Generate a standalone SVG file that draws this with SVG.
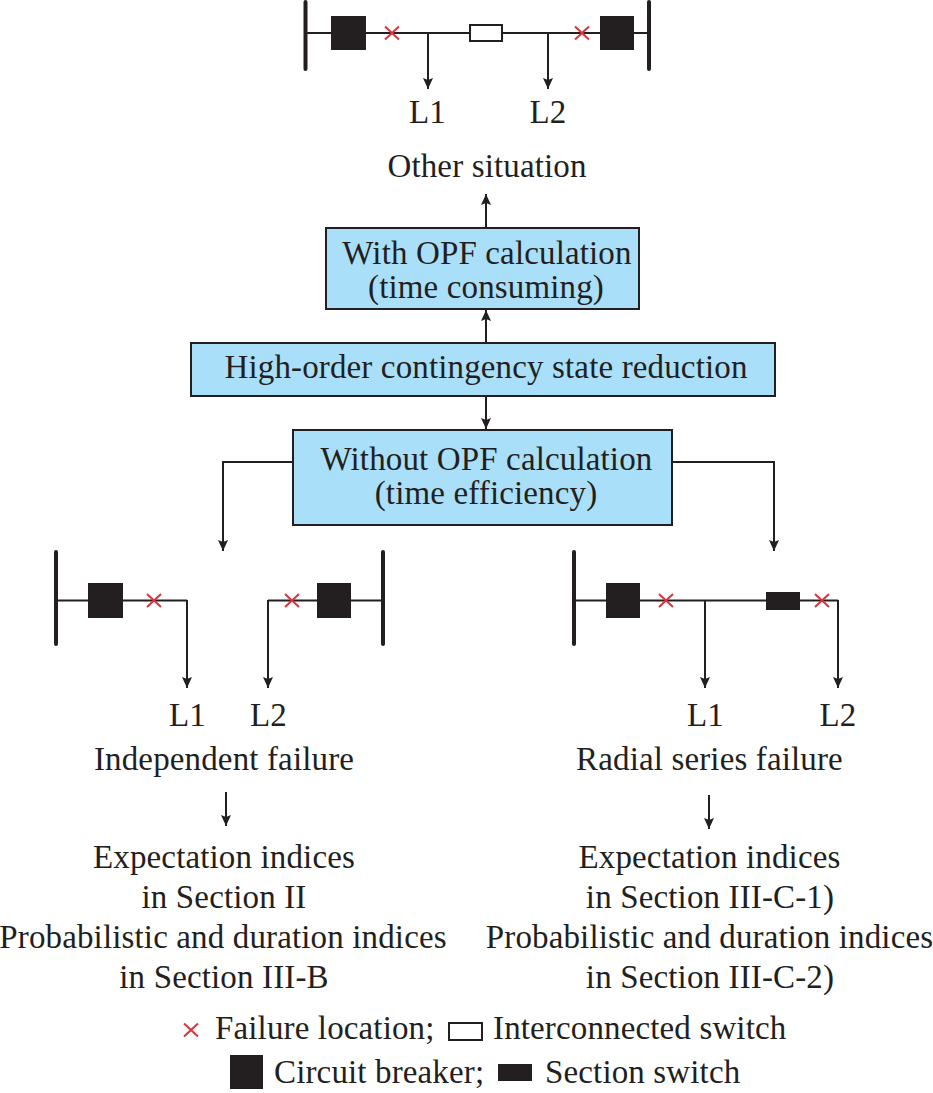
<svg xmlns="http://www.w3.org/2000/svg" width="933" height="1093" viewBox="0 0 933 1093">
<style>
text{font-family:"Liberation Serif","Times New Roman",serif;font-size:33px;letter-spacing:.14px;fill:#231f20}
.m{text-anchor:middle}
.box{fill:#aadffa;stroke:#231f20;stroke-width:2}
.w{fill:none;stroke:#231f20;stroke-width:2}
.arr{fill:none;stroke:#231f20;stroke-width:2;marker-end:url(#a)}
.bus{fill:none;stroke:#231f20;stroke-width:4;stroke-linecap:round}
.cb{fill:#231f20}
.x{fill:none;stroke:#d9333b;stroke-width:2}
.open{fill:#fff;stroke:#231f20;stroke-width:2}
</style>
<defs>
<marker id="a" markerUnits="userSpaceOnUse" markerWidth="12" markerHeight="12" refX="11" refY="5.500" orient="auto"><path d="M0,0.500 L11,5.500 L0,10.500 L2,5.500Z" fill="#231f20"/></marker>
<g id="xm"><path class="x" d="M-7,-6.500 L7,6.500 M-7,6.500 L7,-6.500"/></g>
</defs>
<rect width="933" height="1093" fill="#fff"/>
<g id="connectors">
<path class="arr" d="M486,227 V194"/>
<path class="arr" d="M486,343 V310"/>
<path class="arr" d="M486,397 V429"/>
<path class="arr" d="M293,462 H223 V551"/>
<path class="arr" d="M672,462 H774 V551"/>
<path class="arr" d="M226,792 V826"/>
<path class="arr" d="M709,795 V829"/>
</g>
<g id="top-circuit">
<path class="bus" d="M305.500,2 V69 M649,2 V69"/>
<path class="w" d="M306,33 H649"/>
<rect class="cb" x="331" y="16" width="35" height="34"/>
<rect class="cb" x="600" y="16" width="34" height="34"/>
<rect class="open" x="470" y="25" width="32" height="16"/>
<use href="#xm" x="392" y="33"/><use href="#xm" x="582" y="33"/>
<path class="arr" d="M428,33 V89"/><path class="arr" d="M548,33 V89"/>
<text class="m" x="427.500" y="122.500">L1</text><text class="m" x="548" y="122.500">L2</text>
</g>
<g id="other-situation"><text class="m" x="487" y="177">Other situation</text></g>
<g id="with-opf"><rect class="box" x="326" y="228" width="313" height="81"/>
<text class="m" x="487" y="263.500">With OPF calculation</text><text class="m" x="486" y="297.500">(time consuming)</text></g>
<g id="high-order"><rect class="box" x="191" y="343" width="584" height="53"/>
<text class="m" x="486" y="377.500">High-order contingency state reduction</text></g>
<g id="without-opf"><rect class="box" x="293" y="430" width="379" height="95"/>
<text class="m" x="486.500" y="470">Without OPF calculation</text><text class="m" x="486" y="503.500">(time efficiency)</text></g>
<g id="independent-circuit">
<path class="bus" d="M56,552 V644 M383,552 V644"/>
<path class="w" d="M57,600.500 H187 M383,600.500 H268"/>
<rect class="cb" x="88" y="583" width="35" height="35"/>
<rect class="cb" x="317" y="583" width="34" height="35"/>
<use href="#xm" x="154" y="600.500"/><use href="#xm" x="292" y="600.500"/>
<path class="arr" d="M187,600 V688"/><path class="arr" d="M268,600 V688"/>
<text class="m" x="187.500" y="725.500">L1</text><text class="m" x="268.500" y="725.500">L2</text>
<text class="m" x="224" y="769.500">Independent failure</text>
</g>
<g id="radial-circuit">
<path class="bus" d="M574,552 V644"/>
<path class="w" d="M575,600.500 H838"/>
<rect class="cb" x="606" y="583" width="34" height="35"/>
<rect class="cb" x="766" y="592" width="34" height="18"/>
<use href="#xm" x="666" y="600.500"/><use href="#xm" x="822" y="600.500"/>
<path class="arr" d="M705,600 V688"/><path class="arr" d="M838,600 V688"/>
<text class="m" x="705.500" y="725.500">L1</text><text class="m" x="838" y="725.500">L2</text>
<text class="m" x="709.500" y="769.500">Radial series failure</text>
</g>
<g id="left-indices">
<text class="m" x="224" y="867.500">Expectation indices</text>
<text class="m" x="224" y="907.500">in Section II</text>
<text class="m" x="223" y="947.500">Probabilistic and duration indices</text>
<text class="m" x="224" y="987.500">in Section III-B</text>
</g>
<g id="right-indices">
<text class="m" x="709.500" y="867.500">Expectation indices</text>
<text class="m" x="710" y="907.500">in Section III-C-1)</text>
<text class="m" x="709.500" y="947.500">Probabilistic and duration indices</text>
<text class="m" x="710" y="987.500">in Section III-C-2)</text>
</g>
<g id="legend">
<use href="#xm" x="191" y="1030"/>
<text x="215" y="1038.500">Failure location;</text>
<rect class="open" x="449" y="1023" width="33" height="17"/>
<text x="493" y="1038.500">Interconnected switch</text>
<rect class="cb" x="230" y="1055" width="33" height="34"/>
<text x="274" y="1082.500">Circuit breaker;</text>
<rect class="cb" x="498" y="1064" width="34" height="17"/>
<text x="545" y="1082.500">Section switch</text>
</g>
</svg>
